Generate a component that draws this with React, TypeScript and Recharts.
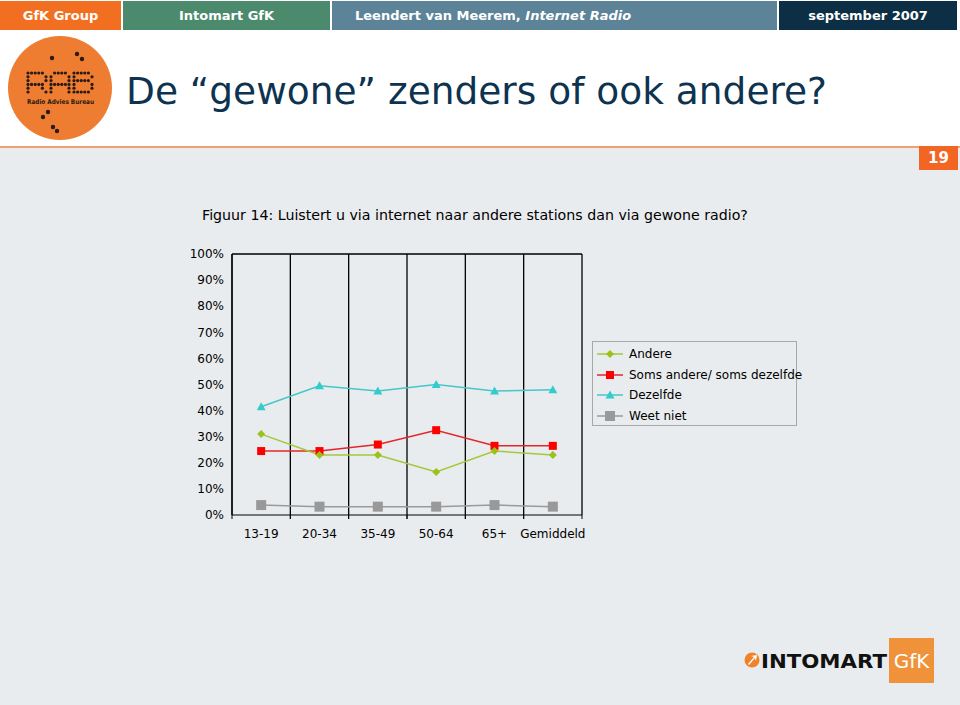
import React from "react";
import {
  LineChart,
  Line,
  XAxis,
  YAxis,
  CartesianGrid,
  ReferenceLine,
} from "recharts";

const categories = ["13-19", "20-34", "35-49", "50-64", "65+", "Gemiddeld"];
const andere = [31, 23, 23, 16.5, 24.5, 23];
const somsAndere = [24.5, 24.5, 27, 32.5, 26.5, 26.5];
const dezelfde = [41.5, 49.5, 47.5, 50, 47.5, 48];
const weetNiet = [3.8, 3.2, 3.2, 3.2, 3.8, 3.2];
const yTicks = [0, 10, 20, 30, 40, 50, 60, 70, 80, 90, 100];

const series = [
  { key: "andere", name: "Andere", color: "#99c31c", line: "#a2c93a", shape: "diamond", values: andere },
  { key: "soms", name: "Soms andere/ soms dezelfde", color: "#ff0000", line: "#e3262b", shape: "square", values: somsAndere },
  { key: "dezelfde", name: "Dezelfde", color: "#33cccc", line: "#45c7c9", shape: "triangle", values: dezelfde },
  { key: "weet", name: "Weet niet", color: "#999999", line: "#9a9a9a", shape: "bigsquare", values: weetNiet },
];

const data = categories.map((cat, i) => {
  const row: any = { cat };
  series.forEach((s) => (row[s.key] = s.values[i]));
  return row;
});

const FONT = "'DejaVu Sans', Verdana, sans-serif";
const BG = "#e9ecee";

function Marker({ shape, color, cx, cy }: any) {
  if (cx == null || cy == null) return null;
  if (shape === "diamond")
    return <polygon points={`${cx},${cy - 4} ${cx + 4},${cy} ${cx},${cy + 4} ${cx - 4},${cy}`} fill={color} />;
  if (shape === "square") return <rect x={cx - 4} y={cy - 4} width={8} height={8} fill={color} />;
  if (shape === "triangle")
    return <polygon points={`${cx},${cy - 4.5} ${cx + 4.5},${cy + 3.5} ${cx - 4.5},${cy + 3.5}`} fill={color} />;
  return <rect x={cx - 5} y={cy - 5} width={10} height={10} fill={color} />;
}

function CatTick(props: any) {
  const { x, y, payload } = props;
  const half = payload && payload.offset ? payload.offset : 0;
  return (
    <g>
      <line x1={x - half} x2={x - half} y1={y} y2={y + 4} stroke="#000" />
      <line x1={x + half} x2={x + half} y1={y} y2={y + 4} stroke="#000" />
      <text x={x} y={y + 23} textAnchor="middle" fontSize={12} fontFamily={FONT} fill="#000">
        {payload.value}
      </text>
    </g>
  );
}

// band edges of the category axis
function bandEdges({ xAxis, offset }: any) {
  const sc = xAxis && xAxis.scale;
  const call =
    typeof sc === "function" ? sc : sc && typeof sc.map === "function" ? (v: any) => sc.map(v) : null;
  const bw = sc && typeof sc.bandwidth === "function" ? sc.bandwidth() : null;
  if (call && bw != null) {
    const xs = categories.map((c) => call(c));
    if (xs.every((v) => typeof v === "number" && !isNaN(v))) return [...xs, xs[xs.length - 1] + bw];
  }
  const n = categories.length;
  return Array.from({ length: n + 1 }, (_, i) => offset.left + (offset.width * i) / n);
}

const rabR = ["#####.", "#....#", "#....#", "#####.", "#...#.", "#....#"];
const rabA = [".####.", "#....#", "#....#", "######", "#....#", "#....#"];
const rabB = ["#####.", "#....#", "#####.", "#....#", "#....#", "#####."];

function RabLogo() {
  const dots: any[] = [];
  [rabR, rabA, rabB].forEach((m, li) =>
    m.forEach((row, r) =>
      row.split("").forEach((c, k) => {
        if (c === "#")
          dots.push(<circle key={`${li}-${r}-${k}`} cx={28 + li * 23 + k * 3.6} cy={73 + r * 3.8} r={1.6} fill="#2a1a12" />);
      })
    )
  );
  const loose = [[52, 58], [77, 54], [82, 59], [48, 112], [43, 117], [53, 127], [57, 131]];
  return (
    <svg width={130} height={150} style={{ position: "absolute", left: 0, top: 30 }} viewBox="0 30 130 150">
      <circle cx={60} cy={88} r={52} fill="#ee7d31" />
      {dots}
      {loose.map(([x, y], i) => (
        <circle key={i} cx={x} cy={y} r={2.2} fill="#2a1a12" />
      ))}
      <text x={27} y={103.5} fontSize={6.5} fontWeight={700} fontFamily={FONT} fill="#2a1a12" textLength={67} lengthAdjust="spacingAndGlyphs">
        Radio Advies Bureau
      </text>
    </svg>
  );
}

function IntomartLogo() {
  return (
    <svg width={200} height={60} style={{ position: "absolute", left: 740, top: 632 }} viewBox="740 632 200 60">
      <circle cx={752} cy={660} r={7.5} fill="#f0832a" />
      <polygon points="748,664 754,657 751,656 757,655 756,661 755,658 749,665" fill="#fff" />
      <text x={761} y={667.5} fontSize={19.5} fontWeight={700} fontFamily={FONT} fill="#111" textLength={126} lengthAdjust="spacingAndGlyphs">
        INTOMART
      </text>
      <rect x={889} y={638} width={45} height={45} fill="#f0923a" />
      <text x={911.5} y={668} textAnchor="middle" fontSize={20} fontFamily={FONT} fill="#fff">
        GfK
      </text>
    </svg>
  );
}

const headerSegs = [
  { left: 0, width: 121, bg: "#f26f21", text: "GfK Group", align: "center" },
  { left: 123, width: 207, bg: "#4b8a6c", text: "Intomart GfK", align: "center" },
  { left: 332, width: 445, bg: "#5c8397", text: "", align: "left" },
  { left: 779, width: 178, bg: "#0c2f45", text: "september 2007", align: "center" },
];

export default function App() {
  return (
    <div style={{ position: "absolute", left: 0, top: 0, width: 960, height: 705, background: BG, fontFamily: FONT, overflow: "hidden" }}>
      <div style={{ position: "absolute", left: 0, top: 0, width: 960, height: 146, background: "#fff" }} />
      <div style={{ position: "absolute", left: 0, top: 146, width: 960, height: 1.5, background: "#f0a070" }} />
      {headerSegs.map((s, i) => (
        <div
          key={i}
          style={{
            position: "absolute",
            left: s.left,
            top: 1,
            width: s.width,
            height: 29,
            background: s.bg,
            color: "#fff",
            fontWeight: 700,
            fontSize: 13,
            lineHeight: "29px",
            textAlign: s.align as any,
            paddingLeft: s.align === "left" ? 23 : 0,
            boxSizing: "border-box",
          }}
        >
          {s.text || (
            <span>
              Leendert van Meerem, <i>Internet Radio</i>
            </span>
          )}
        </div>
      ))}
      <RabLogo />
      <div style={{ position: "absolute", left: 126, top: 65, fontSize: 37.5, color: "#0d3350", whiteSpace: "nowrap", lineHeight: "52px" }}>
        De “gewone” zenders of ook andere?
      </div>
      <div style={{ position: "absolute", left: 919, top: 146, width: 39, height: 24, background: "#f26522", color: "#fff", fontWeight: 700, fontSize: 15, lineHeight: "24px", textAlign: "center" }}>
        19
      </div>
      <div style={{ position: "absolute", left: 202, top: 205, fontSize: 14.2, color: "#000", whiteSpace: "nowrap", lineHeight: "20px" }}>
        Figuur 14: Luistert u via internet naar andere stations dan via gewone radio?
      </div>

      <div style={{ position: "absolute", left: 180, top: 240 }}>
        <LineChart width={430} height={310} data={data} margin={{ top: 14, right: 28, bottom: 5, left: 0 }}>
          <XAxis
            xAxisId="cat"
            dataKey="cat"
            scale="band"
            height={30}
            tickSize={0}
            tickMargin={0}
            tickLine={false}
            axisLine={{ stroke: "#000", strokeWidth: 1.2 }}
            tick={<CatTick />}
            interval={0}
          />
          <YAxis
            width={52}
            domain={[0, 100]}
            ticks={yTicks}
            tickFormatter={(v: number) => `${v}%`}
            tickLine={false}
            axisLine={{ stroke: "#000", strokeWidth: 1.2 }}
            tick={{ fontSize: 12, fill: "#000", fontFamily: FONT }}
            interval={0}
          />
          <CartesianGrid
            xAxisId="cat"
            horizontal={false}
            verticalCoordinatesGenerator={bandEdges}
            stroke="#000"
            strokeWidth={1.3}
            strokeOpacity={1}
          />
          <ReferenceLine xAxisId="cat" y={100} stroke="#000" strokeWidth={1.3} />
          {[...series].reverse().map((s) => (
            <Line
              key={s.key}
              xAxisId="cat"
              type="linear"
              dataKey={s.key}
              name={s.name}
              stroke={s.line}
              strokeWidth={1.5}
              dot={(p: any) => <Marker key={`${s.key}-${p.index}`} shape={s.shape} color={s.color} cx={p.cx} cy={p.cy} />}
              activeDot={false}
              isAnimationActive={false}
            />
          ))}
        </LineChart>
      </div>

      <div style={{ position: "absolute", left: 592, top: 341, width: 205, height: 85, border: "1px solid #a8a8a8", boxSizing: "border-box" }}>
        {series.map((s, i) => (
          <div key={s.key} style={{ position: "absolute", left: 3, top: 2 + i * 20.7, height: 20, display: "flex", alignItems: "center", whiteSpace: "nowrap" }}>
            <svg width={28} height={12} style={{ marginRight: 5 }}>
              <line x1={1} x2={27} y1={6} y2={6} stroke={s.line} strokeWidth={1.5} />
              <Marker shape={s.shape} color={s.color} cx={14} cy={6} />
            </svg>
            <span style={{ fontSize: 12, color: "#000" }}>{s.name}</span>
          </div>
        ))}
      </div>

      <IntomartLogo />
    </div>
  );
}
